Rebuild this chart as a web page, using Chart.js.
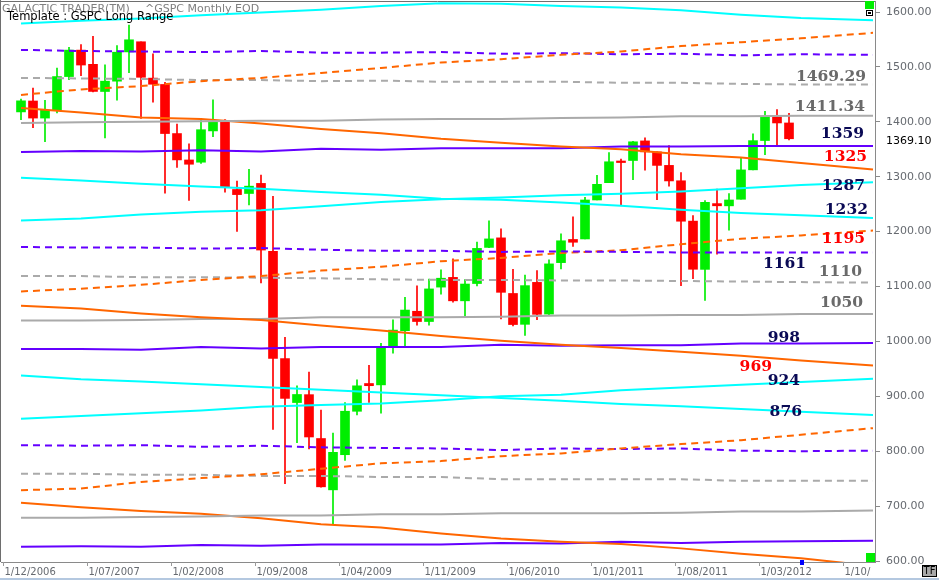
<!DOCTYPE html>
<html><head><meta charset="utf-8">
<script src="https://cdn.jsdelivr.net/npm/chart.js@4/dist/chart.umd.min.js"></script>
<style>html,body{margin:0;padding:0;background:#fff;overflow:hidden}#wrap{width:939px;height:580px;position:relative}</style>
</head><body><div id="wrap"><canvas id="c" width="939" height="580"></canvas></div>
<script>
// ---- x axis (month index: 0 = Dec 2006) ----
const xTickPositions = [-0.5, 6.5, 13.5, 20.5, 27.5, 34.5, 41.5, 48.5, 55.5, 62.5, 69.5];
const xTickLabels = ['1/12/2006','1/07/2007','1/02/2008','1/09/2008','1/04/2009','1/11/2009','1/06/2010','1/01/2011','1/08/2011','1/03/2012','1/10/2012'];
const yTickValues = [600,700,800,900,1000,1100,1200,1300,1400,1500,1600];
const lastPrice = 1369.10;

// ---- monthly candles, Jan 2007 (index 1) .. May 2012 (index 65) ----
const candleFirstMonth = 1;
const opens = [1418.0,1437.9,1406.8,1420.8,1482.4,1530.6,1504.7,1455.2,1474.0,1527.3,1545.8,1479.6,
  1468.0,1378.6,1330.5,1326.4,1383.4,1399.6,1276.7,1269.4,1287.8,1164.2,968.7,888.6,
  903.0,823.1,729.6,793.6,872.7,923.3,920.8,990.2,1019.5,1054.9,1036.2,1098.9,
  1116.6,1073.9,1105.4,1171.2,1188.6,1087.3,1031.1,1107.5,1049.7,1143.5,1185.7,1186.6,
  1257.6,1289.1,1328.6,1329.5,1365.2,1345.2,1320.6,1292.6,1219.1,1131.2,1251.0,1246.9,
  1258.9,1312.5,1365.9,1408.5,1397.9];
const highs = [1441.6,1461.6,1438.9,1498.0,1535.6,1540.6,1555.9,1503.9,1538.7,1576.1,1545.8,1523.6,
  1471.8,1396.0,1359.7,1404.1,1440.2,1404.1,1292.2,1313.2,1303.0,1264.1,1007.5,918.9,
  943.9,875.0,833.0,888.7,930.2,956.2,996.7,1039.5,1080.2,1101.4,1113.7,1130.4,
  1150.5,1112.4,1180.7,1219.8,1205.1,1131.2,1121.0,1129.2,1148.7,1196.1,1227.1,1262.6,
  1302.7,1344.1,1332.3,1364.6,1370.6,1345.2,1356.5,1307.4,1229.3,1256.6,1277.6,1269.4,
  1333.5,1378.0,1419.2,1422.4,1415.3];
const lows = [1404.0,1389.4,1364.0,1416.4,1476.7,1484.2,1454.3,1370.6,1439.3,1489.6,1406.1,1435.7,
  1270.1,1316.8,1257.0,1324.4,1373.1,1272.0,1200.4,1248.6,1106.4,839.8,741.0,815.7,
  804.2,734.5,666.8,783.3,866.1,888.9,869.3,978.5,992.0,1029.4,1029.4,1085.9,
  1071.6,1044.5,1101.0,1170.7,1040.8,1028.3,1010.9,1039.7,1048.1,1131.9,1173.0,1186.6,
  1257.6,1289.1,1249.1,1294.7,1311.8,1258.1,1282.9,1101.5,1114.2,1074.8,1158.7,1202.4,
  1258.9,1312.5,1340.0,1357.4,1367.0];
const closes = [1438.2,1406.8,1420.9,1482.4,1530.6,1503.4,1455.3,1474.0,1526.8,1549.4,1481.1,1468.4,
  1378.6,1330.6,1322.7,1385.6,1400.4,1280.0,1267.4,1282.8,1166.4,968.8,896.2,903.3,
  825.9,735.1,797.9,872.8,919.1,919.3,987.5,1020.6,1057.1,1036.2,1095.6,1115.1,
  1073.9,1104.5,1169.4,1186.7,1089.4,1030.7,1101.6,1049.3,1141.2,1183.3,1180.6,1257.6,
  1286.1,1327.2,1325.8,1363.6,1345.2,1320.6,1292.3,1218.9,1131.4,1253.3,1247.0,1257.6,
  1312.4,1365.7,1408.5,1397.9,1369.1];

// ---- level lines, read at these month indexes ----
const knotMonths = [1,6,11,16,21,26,31,36,41,46,51,56,61,66,72];
const cyanTop        = [1579,1584,1588,1594,1599,1604,1611,1616,1615,1611,1608,1603,1595,1589,1585];
const orangeDashTop  = [1449,1459,1465,1474,1480,1489,1498,1508,1514,1522,1528,1538,1545,1552,1562];
const purpleDashTop  = [1531,1529,1528,1527,1529,1526,1526,1527,1524,1525,1523,1524,1521,1523,1522];
const grayDashTop    = [1480,1479,1478,1476,1476,1474,1475,1473,1473,1473,1471,1471,1469,1468,1468];
const graySolidTop   = [1398,1399,1400,1401,1402,1402,1404,1405,1405,1407,1408,1410,1410,1411,1411];
const orangeSolidTop = [1425,1417,1408,1405,1397,1387,1379,1369,1362,1355,1350,1341,1335,1325,1313];
const purpleSolidTop = [1345,1347,1346,1348,1346,1351,1349,1352,1352,1352,1355,1355,1356,1356,1356];
const cyanMidDown    = [1298,1293,1287,1282,1278,1272,1267,1260,1258,1253,1247,1240,1234,1230,1225];
const cyanMidUp      = [1220,1224,1231,1236,1239,1246,1254,1259,1262,1266,1269,1273,1279,1285,1290];
const purpleDashMid  = [1172,1171,1171,1169,1170,1167,1165,1165,1163,1164,1163,1162,1162,1162,1162];
const orangeDashMid  = [1091,1096,1103,1112,1119,1129,1136,1146,1152,1161,1166,1177,1187,1193,1202];
const grayDashMid    = [1119,1119,1117,1117,1116,1115,1113,1112,1112,1111,1111,1110,1109,1108,1107];
const orangeSolidMid = [1065,1060,1051,1044,1039,1029,1020,1010,1001,994,988,981,974,965,956];
const graySolidMid   = [1038,1038,1039,1041,1041,1044,1044,1044,1045,1047,1047,1048,1048,1050,1050];
const purpleSolidMid = [986,986,985,990,987,990,990,990,994,992,993,993,996,996,997];
const cyanLowDown    = [938,931,927,922,917,912,907,902,897,892,886,882,877,872,866];
const cyanLowUp      = [859,864,869,874,881,884,887,893,900,903,911,916,921,926,932];
const orangeDashLow  = [729,732,744,751,758,768,778,782,791,796,805,813,820,830,842];
const purpleDashLow  = [811,810,811,808,810,807,806,805,802,805,804,805,801,800,801];
const grayDashLow    = [759,759,757,757,755,755,753,753,749,749,749,749,746,746,746];
const graySolidLow   = [679,679,680,681,683,683,685,685,687,687,687,688,690,690,692];
const orangeSolidLow = [706,698,691,686,678,667,661,650,641,635,631,623,613,605,591];
const purpleSolidLow = [626,627,626,629,628,630,630,630,633,632,635,633,635,636,637];

// ---- right-hand level notes (text, position in month / price units) ----
const levelNotes = [
  {t:'1469.29', c:'gray',  m:71.42, p:1481.6},
  {t:'1411.34', c:'gray',  m:71.33, p:1427.5},
  {t:'1359',    c:'navy',  m:71.25, p:1377.8},
  {t:'1325',    c:'red',   m:71.50, p:1336.8},
  {t:'1287',    c:'navy',  m:71.33, p:1283.1},
  {t:'1232',    c:'navy',  m:71.58, p:1240.3},
  {t:'1195',    c:'red',   m:71.33, p:1186.6},
  {t:'1161',    c:'navy',  m:66.42, p:1141.0},
  {t:'1110',    c:'gray',  m:71.08, p:1126.5},
  {t:'1050',    c:'gray',  m:71.17, p:1070.0},
  {t:'998',     c:'navy',  m:65.92, p:1005.4},
  {t:'969',     c:'red',   m:63.58, p:954.0},
  {t:'924',     c:'navy',  m:65.92, p:928.0},
  {t:'876',     c:'navy',  m:66.08, p:872.1}
];

// ---- styles ----
const COL = {cyan:'#00ffff', purple:'#6400ff', orange:'#ff6600', gray:'#aaaaaa',
  up:'#00ee00', down:'#ff0000', navy:'#0a0a55', red:'#ff0000', noteGray:'#6a6a6a'};
const lineDefs = [
  [cyanTop,'cyan',false],[orangeDashTop,'orange',true],[purpleDashTop,'purple',true],[grayDashTop,'gray',true],
  [graySolidTop,'gray',false],[orangeSolidTop,'orange',false],[purpleSolidTop,'purple',false],
  [cyanMidDown,'cyan',false],[cyanMidUp,'cyan',false],[purpleDashMid,'purple',true],[orangeDashMid,'orange',true],
  [grayDashMid,'gray',true],[orangeSolidMid,'orange',false],[graySolidMid,'gray',false],[purpleSolidMid,'purple',false],
  [cyanLowDown,'cyan',false],[cyanLowUp,'cyan',false],[orangeDashLow,'orange',true],[purpleDashLow,'purple',true],
  [grayDashLow,'gray',true],[graySolidLow,'gray',false],[orangeSolidLow,'orange',false],[purpleSolidLow,'purple',false]
];

Chart.defaults.font.family = 'DejaVu Sans';

const candleColor = ctx => closes[ctx.dataIndex] >= opens[ctx.dataIndex] ? COL.up : COL.down;
const datasets = [];
lineDefs.forEach(([vals, c, dashed]) => {
  datasets.push({
    type:'line', data: knotMonths.map((m,i)=>({x:m, y:vals[i]})),
    borderColor: COL[c], borderWidth: 2, borderDash: dashed ? [7,5] : [],
    pointRadius: 0, tension: 0, fill: false, order: 1
  });
});
datasets.push({
  type:'bar', data: opens.map((o,i)=>({x:candleFirstMonth+i, y:[lows[i], highs[i]]})),
  backgroundColor: candleColor, borderWidth: 0, grouped: false,
  barPercentage: 1, categoryPercentage: 1, maxBarThickness: 1, order: 3
});
datasets.push({
  type:'bar', data: opens.map((o,i)=>({x:candleFirstMonth+i, y:[o, closes[i]]})),
  backgroundColor: candleColor, borderWidth: 0, grouped: false,
  barPercentage: 1, categoryPercentage: 1, maxBarThickness: 9, minBarLength: 1, order: 2
});

const decor = {
  id: 'decor',
  afterDraw(chart) {
    const ctx = chart.ctx, xs = chart.scales.x, ys = chart.scales.y, a = chart.chartArea;
    ctx.save();
    // frame
    ctx.strokeStyle = '#6e6e6e'; ctx.lineWidth = 1;
    ctx.beginPath(); ctx.moveTo(0.5, 0); ctx.lineTo(0.5, a.bottom); ctx.moveTo(0, 1.5); ctx.lineTo(a.right, 1.5); ctx.stroke();
    // level notes
    ctx.font = 'bold 15.5px "DejaVu Serif"'; ctx.textAlign = 'right'; ctx.textBaseline = 'middle';
    levelNotes.forEach(n => {
      ctx.fillStyle = n.c === 'red' ? COL.red : (n.c === 'navy' ? COL.navy : COL.noteGray);
      ctx.fillText(n.t, xs.getPixelForValue(n.m), ys.getPixelForValue(n.p));
    });
    // titles
    ctx.textAlign = 'left';
    ctx.font = '11px "DejaVu Sans"'; ctx.fillStyle = '#808080';
    ctx.fillText('GALACTIC TRADER(TM)', 2, 9);
    ctx.fillText('^GSPC Monthly EOD', 145, 9);
    ctx.font = '11.5px "DejaVu Sans"'; ctx.fillStyle = '#000000';
    ctx.fillText('Template : GSPC Long Range', 7, 17.5);
    // last price
    ctx.font = '11px "DejaVu Sans"'; ctx.fillStyle = '#000000';
    ctx.fillText(lastPrice.toFixed(2), 886, ys.getPixelForValue(lastPrice) + 2);
    // x ticks & labels (clipped before the price axis)
    ctx.save();
    ctx.beginPath(); ctx.rect(0, a.bottom, a.right - 4, 20); ctx.clip();
    ctx.strokeStyle = '#9a9a9a'; ctx.fillStyle = '#666a70'; ctx.font = '10px "DejaVu Sans"';
    xTickPositions.forEach((p, i) => {
      const px = Math.round(xs.getPixelForValue(p)) + 0.5;
      ctx.beginPath(); ctx.moveTo(px, a.bottom); ctx.lineTo(px, a.bottom + 4); ctx.stroke();
      ctx.fillText(xTickLabels[i], px + 1, 572);
    });
    ctx.restore();
    // decorations
    ctx.fillStyle = '#00ee00';
    ctx.fillRect(865, 1, 9, 8);
    ctx.fillRect(866, 553, 9, 9);
    ctx.strokeStyle = '#000'; ctx.lineWidth = 1;
    ctx.strokeRect(866.5, 10.5, 6, 5); ctx.strokeRect(868.5, 12.5, 2, 1);
    ctx.fillStyle = '#0000ff'; ctx.fillRect(800, 560, 4, 5);
    ctx.fillStyle = '#a8a8a8'; ctx.fillRect(922, 565, 15, 11);
    ctx.strokeRect(922.5, 565.5, 14, 11);
    ctx.fillStyle = '#000'; ctx.font = '10px "DejaVu Sans"'; ctx.textAlign = 'center';
    ctx.fillText('TF', 929.5, 571);
    ctx.fillStyle = '#b4c8e0'; ctx.fillRect(0, 578, 939, 2);
    ctx.restore();
  }
};

new Chart(document.getElementById('c'), {
  type: 'bar',
  data: { datasets },
  options: {
    responsive: false, animation: false, devicePixelRatio: 1,
    layout: { padding: { top: 1, left: 1, right: 0, bottom: 0 } },
    plugins: { legend: { display: false }, tooltip: { enabled: false } },
    scales: {
      x: {
        type: 'linear', offset: false, min: -2/3, max: 72 + 1/6,
        grid: { display: false },
        border: { display: true, color: '#8a8a8a', width: 1 },
        ticks: { display: false },
        afterFit(s) { s.height = 18; s.paddingLeft = 0; s.paddingRight = 0; }
      },
      y: {
        type: 'linear', position: 'right', min: 598.18, max: 1620.04,
        grid: { drawOnChartArea: false, drawTicks: true, tickLength: 5, color: '#8a8a8a' },
        border: { display: true, color: '#8a8a8a', width: 1 },
        afterBuildTicks(s) { s.ticks = yTickValues.map(v => ({ value: v })); },
        ticks: { color: '#666a70', font: { size: 11, family: 'DejaVu Sans' }, padding: 6,
                 autoSkip: false, callback: v => Number(v).toFixed(2) },
        afterFit(s) { s.width = 64; s.paddingTop = 0; s.paddingBottom = 0; }
      }
    }
  },
  plugins: [decor]
});
</script></body></html>
